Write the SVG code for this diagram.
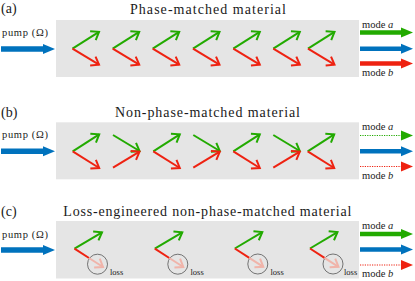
<svg xmlns="http://www.w3.org/2000/svg" width="415" height="281" viewBox="0 0 415 281">
<style>
text{font-family:'Liberation Serif','DejaVu Serif','Times New Roman',serif;fill:#1a1a1a}
.lab{font-size:14px}
.ttl{font-size:14px}
.sm{font-size:10.5px}
.loss{font-size:8.5px}
.box{fill:#e5e5e5}
.g{stroke:#22aa00;stroke-width:2;fill:none;marker-end:url(#hg)}
.r{stroke:#ee2211;stroke-width:2;fill:none;marker-end:url(#hr)}
.rs{stroke:#ee2211;stroke-width:2;fill:none}
.pk{stroke:#f0b4aa;stroke-width:2;fill:none;marker-end:url(#hp)}
.circ{fill:none;stroke:#555;stroke-width:0.8}
.bigb{stroke:#0072bd;stroke-width:5.5;fill:none;marker-end:url(#tb)}
.bigg{stroke:#22aa00;stroke-width:4.5;fill:none;marker-end:url(#tg)}
.bigr{stroke:#ee2211;stroke-width:4.5;fill:none;marker-end:url(#tr)}
.outb{stroke:#0072bd;stroke-width:4.5;fill:none;marker-end:url(#tb)}
.dg{stroke:#22aa00;stroke-width:1.2;stroke-dasharray:1.2 1.2;fill:none;marker-end:url(#tg)}
.dr{stroke:#ee2211;stroke-width:1.2;stroke-dasharray:1.2 1.2;fill:none;marker-end:url(#tr)}
</style>
<defs>
<marker id="hg" viewBox="-10 -7 12 14" markerWidth="12" markerHeight="14" refX="0" refY="0" orient="auto" markerUnits="userSpaceOnUse"><path d="M-7.2,-5.2 L0,0 L-7.2,5.2" fill="none" stroke="#22aa00" stroke-width="2"/></marker>
<marker id="hr" viewBox="-10 -7 12 14" markerWidth="12" markerHeight="14" refX="0" refY="0" orient="auto" markerUnits="userSpaceOnUse"><path d="M-7.2,-5.2 L0,0 L-7.2,5.2" fill="none" stroke="#ee2211" stroke-width="2"/></marker>
<marker id="hp" viewBox="-10 -7 12 14" markerWidth="12" markerHeight="14" refX="0" refY="0" orient="auto" markerUnits="userSpaceOnUse"><path d="M-7.2,-5.2 L0,0 L-7.2,5.2" fill="none" stroke="#f0b4aa" stroke-width="2"/></marker>
<marker id="tb" viewBox="0 -6 13 12" markerWidth="13" markerHeight="12" refX="0" refY="0" orient="auto" markerUnits="userSpaceOnUse"><path d="M0,-5 L12,0 L0,5 Z" fill="#0072bd"/></marker>
<marker id="tg" viewBox="0 -6 13 12" markerWidth="13" markerHeight="12" refX="0" refY="0" orient="auto" markerUnits="userSpaceOnUse"><path d="M0,-5 L12,0 L0,5 Z" fill="#22aa00"/></marker>
<marker id="tr" viewBox="0 -6 13 12" markerWidth="13" markerHeight="12" refX="0" refY="0" orient="auto" markerUnits="userSpaceOnUse"><path d="M0,-5 L12,0 L0,5 Z" fill="#ee2211"/></marker>
</defs>

<g id="panel-a">
<rect id="material-a" class="box" x="56" y="20" width="303" height="57"/>
<text class="lab" x="1" y="13">(a)</text>
<text class="ttl" x="130" y="13.5" textLength="156" lengthAdjust="spacing">Phase-matched material</text>
<text class="sm" x="2" y="36" textLength="46" lengthAdjust="spacing">pump (Ω)</text>
<text class="sm" x="362" y="28">mode <tspan font-style="italic">a</tspan></text>
<text class="sm" x="362" y="75.5">mode <tspan font-style="italic">b</tspan></text>
</g>

<g id="panel-b">
<rect id="material-b" class="box" x="56" y="122.3" width="303" height="57"/>
<text class="lab" x="1" y="116.5">(b)</text>
<text class="ttl" x="115" y="116.7" textLength="185" lengthAdjust="spacing">Non-phase-matched material</text>
<text class="sm" x="2" y="138.3" textLength="46" lengthAdjust="spacing">pump (Ω)</text>
<text class="sm" x="362" y="130">mode <tspan font-style="italic">a</tspan></text>
<text class="sm" x="362" y="179">mode <tspan font-style="italic">b</tspan></text>
</g>

<g id="panel-c">
<rect id="material-c" class="box" x="56" y="221" width="303" height="57.5"/>
<text class="lab" x="1" y="215.5">(c)</text>
<text class="ttl" x="63.3" y="215.5" textLength="288" lengthAdjust="spacing">Loss-engineered non-phase-matched material</text>
<text class="sm" x="2" y="238.3" textLength="46" lengthAdjust="spacing">pump (Ω)</text>
<text class="sm" x="362" y="229.3">mode <tspan font-style="italic">a</tspan></text>
<text class="sm" x="362" y="277.3">mode <tspan font-style="italic">b</tspan></text>
<g id="loss-1"><circle class="circ" cx="97.5" cy="264.2" r="10"/><text class="loss" x="110" y="274.5">loss</text></g>
<g id="loss-2"><circle class="circ" cx="177.8" cy="264.2" r="10"/><text class="loss" x="190.5" y="274.5">loss</text></g>
<g id="loss-3"><circle class="circ" cx="257.8" cy="264" r="10"/><text class="loss" x="270.5" y="274.5">loss</text></g>
<g id="loss-4"><circle class="circ" cx="333" cy="264" r="10"/><text class="loss" x="344" y="274.5">loss</text></g>
</g>

<g id="connectors">
<path class="bigb" d="M1,49 L43,49"/>
<path class="bigb" d="M1,151.3 L43,151.3"/>
<path class="bigb" d="M1,250 L43,250"/>
<path class="bigg" d="M360,32.5 L401,32.5"/>
<path class="outb" d="M360,48.8 L401,48.8"/>
<path class="bigr" d="M360,63.5 L401,63.5"/>
<path class="dg" d="M360,135.5 L401,135.5"/>
<path class="outb" d="M360,151.3 L401,151.3"/>
<path class="dr" d="M360,166.5 L401,166.5"/>
<path class="bigg" d="M360,234 L401,234"/>
<path class="outb" d="M360,249.5 L401,249.5"/>
<path class="dr" d="M360,265 L401,265"/>

<path class="g" d="M72.5,48.7 L99,31.8"/><path class="r" d="M72.5,48.7 L99,64.7"/>
<path class="g" d="M112.7,48.7 L139.2,31.8"/><path class="r" d="M112.7,48.7 L139.2,64.7"/>
<path class="g" d="M152.7,48.7 L179.2,31.8"/><path class="r" d="M152.7,48.7 L179.2,64.7"/>
<path class="g" d="M193,48.7 L219.5,31.8"/><path class="r" d="M193,48.7 L219.5,64.7"/>
<path class="g" d="M233.3,48.7 L259.8,31.8"/><path class="r" d="M233.3,48.7 L259.8,64.7"/>
<path class="g" d="M273.3,48.7 L299.8,31.8"/><path class="r" d="M273.3,48.7 L299.8,64.7"/>
<path class="g" d="M308,48.7 L334.5,31.8"/><path class="r" d="M308,48.7 L334.5,64.7"/>

<path class="g" d="M72.7,151.3 L99.2,134.3"/><path class="r" d="M72.7,151.3 L99.2,168"/>
<path class="g" d="M113,135 L139.5,151"/><path class="r" d="M113,167.7 L139.5,151.6"/>
<path class="g" d="M153.3,151.3 L179.8,134.3"/><path class="r" d="M153.3,151.3 L179.8,168"/>
<path class="g" d="M193.3,135 L219.8,151"/><path class="r" d="M193.3,167.7 L219.8,151.6"/>
<path class="g" d="M233.3,151.3 L259.8,134.3"/><path class="r" d="M233.3,151.3 L259.8,168"/>
<path class="g" d="M273.3,135 L299.8,151"/><path class="r" d="M273.3,167.7 L299.8,151.6"/>
<path class="g" d="M307.7,151.3 L334.2,134.3"/><path class="r" d="M307.7,151.3 L334.2,168"/>

<path class="g" d="M74.5,248.7 L102,232.3"/><path class="rs" d="M74.5,248.7 L89,258"/><path class="pk" d="M89,258 L103,267"/>
<path class="g" d="M154.8,248.7 L182.3,232.3"/><path class="rs" d="M154.8,248.7 L169.3,258"/><path class="pk" d="M169.3,258 L183.3,267"/>
<path class="g" d="M234.8,248.5 L262.3,232.1"/><path class="rs" d="M234.8,248.5 L249.3,257.8"/><path class="pk" d="M249.3,257.8 L263.3,266.8"/>
<path class="g" d="M310,248.5 L337.5,232.1"/><path class="rs" d="M310,248.5 L324.5,257.8"/><path class="pk" d="M324.5,257.8 L338.5,266.8"/>
</g>
</svg>
